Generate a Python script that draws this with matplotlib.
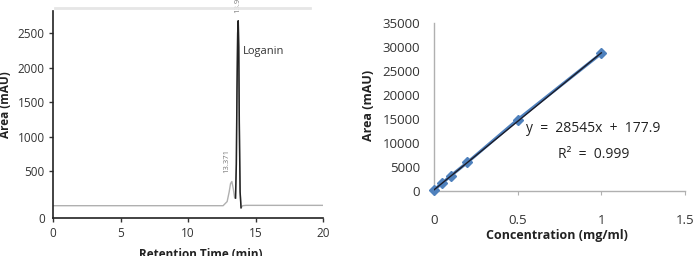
import matplotlib
matplotlib.use("Agg")
import matplotlib.pyplot as plt
import numpy as np

plt.rcParams['font.family'] = ['Open Sans', 'DejaVu Sans']

# ---- Chromatogram data ----
rt_time = [0.0, 5.0, 10.0, 12.6, 12.9, 13.05, 13.15, 13.25, 13.35, 13.45, 13.52,
           13.58, 13.63, 13.68, 13.72, 13.76, 13.8, 13.86, 13.93, 14.05, 14.3, 17.0, 20.0]
rt_signal = [0, 0, 0, 0, 60, 200, 320, 350, 250, 120, 110,
             600, 1700, 2500, 2680, 2300, 1200, 200, -30, 0, 5, 5, 5]
rt_xticks = [0, 5, 10, 15, 20]
rt_yticks = [500, 1000, 1500, 2000, 2500]
peak_labels = ["13.371", "13.918"]
peak_name = "Loganin"

# ---- Calibration data ----
conc = [0.0, 0.05, 0.1, 0.2, 0.5, 1.0]
area = [150, 1600, 3100, 5900, 14800, 28600]
slope = 28545
intercept = 177.9
cal_xticks = [0, 0.5, 1, 1.5]
cal_xticklabels = ["0", "0.5", "1", "1.5"]
cal_yticks = [0, 5000, 10000, 15000, 20000, 25000, 30000, 35000]

W, H = 697, 256
fig = plt.figure(figsize=(W / 100, H / 100), dpi=100)

def fx(px):
    return px / W

def fy(py):
    return 1 - py / H

# ---------------- Left panel ----------------
ax1 = fig.add_axes([fx(53), fy(217.7), fx(323) - fx(53), fy(11) - fy(217.7)])
ax1.set_xlim(0, 20)
ax1.set_ylim(-174, 2822)
ax1.plot(rt_time, rt_signal, color='#b0b0b0', lw=1.0, solid_joinstyle='round')
# darker main peak
ax1.plot(rt_time[10:19], rt_signal[10:19], color='#222222', lw=1.1)
for s in ['top', 'right']:
    ax1.spines[s].set_visible(False)
for s in ['left', 'bottom']:
    ax1.spines[s].set_color('#222222')
    ax1.spines[s].set_linewidth(1.2)
ax1.set_xticks(rt_xticks)
ax1.set_xticklabels([str(v) for v in rt_xticks])
ax1.set_yticks([-174] + rt_yticks)
ax1.set_yticklabels(['0'] + [str(v) for v in rt_yticks])
ax1.yaxis.get_major_ticks()[0].tick1line.set_visible(False)
ax1.tick_params(axis='both', labelsize=8.5, colors='#333333', length=3, width=1, pad=3)
ax1.tick_params(axis='x', pad=4)
ax1.text(12.9, 474, peak_labels[0], rotation=90, fontsize=5.5, color='#777777',
         ha='center', va='bottom')
ax1.text(13.72, 2790, peak_labels[1], rotation=90, fontsize=5.5, color='#777777',
         ha='center', va='bottom', clip_on=False)
ax1.text(14.07, 2228, peak_name, fontsize=8, color='#333333', ha='left', va='center')
# faint scan artifact line at top
fig.add_artist(plt.Line2D([fx(55), fx(310)], [fy(7.5), fy(7.5)], color='#e6e6e6', lw=2))
fig.text(fx(6), fy(105), 'Area (mAU)', rotation=90, fontsize=8.5, fontweight='bold',
         ha='center', va='center', color='#222222')
fig.text(fx(201), fy(248), 'Retention Time (min)', fontsize=8.5, fontweight='bold',
         ha='center', va='top', color='#222222')

# ---------------- Right panel ----------------
ax2 = fig.add_axes([fx(434), fy(190.7), fx(685) - fx(434), fy(22.7) - fy(190.7)])
ax2.set_xlim(0, 1.5)
ax2.set_ylim(0, 35000)
ax2.plot(conc, area, color='#4F81BD', lw=2.2, marker='D', markersize=5,
         markerfacecolor='#4F81BD', markeredgecolor='#4F81BD', clip_on=False, zorder=3)
xfit = np.array([0.0, 1.0])
ax2.plot(xfit, slope * xfit + intercept, color='#1c1c28', lw=1.0, zorder=4)
for s in ['top', 'right']:
    ax2.spines[s].set_visible(False)
for s in ['left', 'bottom']:
    ax2.spines[s].set_color('#b0b0b0')
    ax2.spines[s].set_linewidth(1.0)
ax2.set_xticks(cal_xticks)
ax2.set_xticklabels(cal_xticklabels)
ax2.set_yticks(cal_yticks)
ax2.set_yticklabels([str(v) for v in cal_yticks])
ax2.tick_params(axis='y', length=0, labelsize=9.5, colors='#333333', pad=10)
ax2.tick_params(axis='x', length=3, color='#b0b0b0', labelsize=9.5, labelcolor='#333333', pad=14)
ax2.text(0.55, 13050, 'y  =  28545x  +  177.9', fontsize=10, color='#222222',
         ha='left', va='center')
ax2.text(0.74, 7600, 'R²  =  0.999', fontsize=10, color='#222222', ha='left', va='center')
fig.text(fx(368), fy(105), 'Area (mAU)', rotation=90, fontsize=9, fontweight='bold',
         ha='center', va='center', color='#222222')
fig.text(fx(557), fy(236), 'Concentration (mg/ml)', fontsize=9, fontweight='bold',
         ha='center', va='center', color='#222222')

fig.savefig('out.png', dpi=100)
